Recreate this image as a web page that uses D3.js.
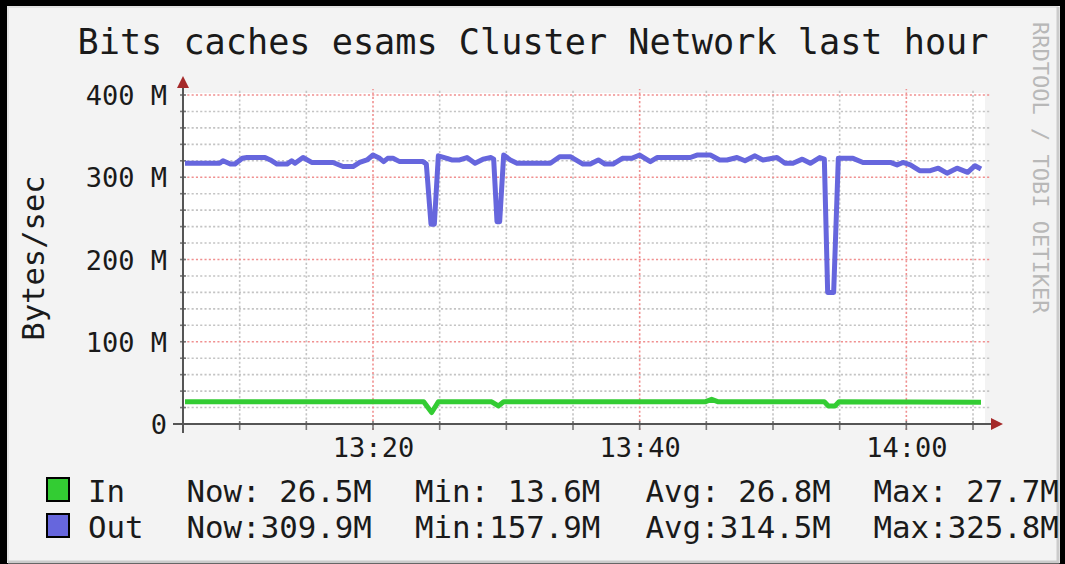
<!DOCTYPE html>
<html>
<head>
<meta charset="utf-8">
<title>Bits caches esams Cluster Network last hour</title>
<script src="https://d3js.org/d3.v7.min.js"></script>
<style>
  body { margin: 0; background: #000; }
  svg { display: block; }
  text { font-family: "DejaVu Sans Mono", monospace; }
</style>
</head>
<body>
<script>
// minutes after 13:00
var outTimes = [5.9, 8.5, 8.75, 9.3, 9.65, 10.2, 10.55, 11.9, 12.3, 12.8, 13.55, 13.9, 14.15, 14.75,
  15.4, 17.0, 17.75, 18.5, 19.0, 19.55, 20.0, 20.5, 20.8, 21.1, 21.5, 22.0, 23.75, 24.0, 24.35, 24.6,
  24.9, 25.55, 25.9, 26.5, 27.05, 27.65, 28.25, 28.85, 29.05, 29.3, 29.5, 29.8, 30.3, 30.8, 33.3,
  34.0, 34.8, 35.75, 36.3, 36.9, 37.4, 38.0, 38.7, 39.4, 40.0, 40.8, 41.3, 43.8, 44.3, 45.3, 46.0,
  46.55, 47.3, 47.9, 48.65, 49.25, 50.3, 50.9, 51.5, 52.2, 52.8, 53.5, 53.85, 54.1, 54.55, 54.9,
  56.0, 56.75, 58.8, 59.3, 59.75, 60.3, 61.0, 61.8, 62.4, 63.05, 63.8, 64.6, 65.15, 65.6];
// Out, MBytes/sec
var outValues = [317, 317, 320, 316, 316, 323, 324, 324, 321, 316, 316, 320, 317, 324,
  318, 318, 313, 313, 318, 321, 327, 323, 319, 323, 323, 319, 319, 316, 243, 243,
  326, 323, 321, 321, 324, 317, 322, 324, 322, 246, 246, 327, 321, 317, 317,
  325, 325, 316, 316, 321, 316, 316, 323, 323, 327, 319, 324, 324, 327, 327, 321,
  321, 324, 320, 326, 321, 324, 317, 317, 322, 317, 324, 322, 160, 160, 323,
  323, 318, 318, 315, 318, 315, 308, 308, 311, 305, 311, 306, 314, 310];

var inTimes = [5.9, 23.8, 24.4, 24.9, 28.9, 29.4, 29.8, 44.9, 45.4, 45.9, 53.85, 54.15, 54.65, 54.95, 65.6];
var inValues = [27, 27, 14, 27, 27, 22, 27, 27, 30, 27, 27, 22, 22, 27, 26.5];

var yTicks = [0, 100, 200, 300, 400];
var yTickLabels = ["0", "100 M", "200 M", "300 M", "400 M"];
var xTicks = [20, 40, 60];
var xTickLabels = ["13:20", "13:40", "14:00"];

var legendRows = [
  {name: "In",  color: "#33cc33", now: " 26.5M", min: " 13.6M", avg: " 26.8M", max: " 27.7M"},
  {name: "Out", color: "#6666dd", now: "309.9M", min: "157.9M", avg: "314.5M", max: "325.8M"}
];

var W = 1065, H = 564;
var svg = d3.select("body").append("svg").attr("width", W).attr("height", H);

svg.append("rect").attr("width", W).attr("height", H).attr("fill", "#000");
// canvas with shaded frame
svg.append("rect").attr("x", 7).attr("y", 6).attr("width", 1053).attr("height", 557).attr("fill", "#f3f3f3");
svg.append("path").attr("d", "M8,562V7H1058").attr("fill", "none").attr("stroke", "#e2e2e2").attr("stroke-width", 2);
svg.append("path").attr("d", "M8,562H1058V7").attr("fill", "none").attr("stroke", "#cbcbcb").attr("stroke-width", 3);

var x = d3.scaleLinear().domain([5.75, 65.9]).range([183, 985]);
var y = d3.scaleLinear().domain([0, 400]).range([424, 95]);

// plot area
svg.append("rect").attr("x", x(5.75)).attr("y", y(400) - 2)
  .attr("width", x(65.9) - x(5.75)).attr("height", y(0) - y(400) + 2).attr("fill", "#fff");

var minorY = d3.range(20, 401, 20).filter(function(v){ return v % 100 != 0; });
var majorY = [100, 200, 300, 400];
var minorX = d3.range(10, 66, 5).filter(function(v){ return v % 20 != 0; });
var majorX = xTicks;

var grid = svg.append("g");
grid.selectAll(".mx").data(minorX).enter().append("line")
  .attr("x1", function(d){ return x(d); }).attr("x2", function(d){ return x(d); })
  .attr("y1", y(0)).attr("y2", y(400) - 6)
  .attr("stroke", "#c4c4c4").attr("stroke-width", 1.6).attr("stroke-dasharray", "2.1,2.2");
grid.selectAll(".my").data(minorY).enter().append("line")
  .attr("x1", x(5.75)).attr("x2", x(65.9) + 5)
  .attr("y1", function(d){ return y(d); }).attr("y2", function(d){ return y(d); })
  .attr("stroke", "#c4c4c4").attr("stroke-width", 1.6).attr("stroke-dasharray", "2.1,2.2");
grid.selectAll(".Mx").data(majorX).enter().append("line")
  .attr("x1", function(d){ return x(d); }).attr("x2", function(d){ return x(d); })
  .attr("y1", y(0) + 6).attr("y2", y(400) - 6)
  .attr("stroke", "#f09090").attr("stroke-width", 1.6).attr("stroke-dasharray", "2.1,2.2");
grid.selectAll(".My").data(majorY).enter().append("line")
  .attr("x1", x(5.75)).attr("x2", x(65.9) + 5)
  .attr("y1", function(d){ return y(d); }).attr("y2", function(d){ return y(d); })
  .attr("stroke", "#f09090").attr("stroke-width", 1.6).attr("stroke-dasharray", "2.1,2.2");

// axes
var yAxis = d3.axisLeft(y).tickValues(yTicks).tickSize(0).tickPadding(16)
  .tickFormat(function(d, i){ return yTickLabels[i]; });
var gy = svg.append("g").attr("transform", "translate(" + x(5.75) + ",0)").call(yAxis);
gy.select(".domain").remove();
gy.selectAll("text").attr("font-size", 27).attr("fill", "#1a1a1a")
  .attr("font-family", "DejaVu Sans Mono").attr("dy", "0.36em");

var xAxis = d3.axisBottom(x).tickValues(xTicks).tickSize(0).tickPadding(14)
  .tickFormat(function(d, i){ return xTickLabels[i]; });
var gx = svg.append("g").attr("transform", "translate(0," + y(0) + ")").call(xAxis);
gx.select(".domain").remove();
gx.selectAll("text").attr("font-size", 27).attr("fill", "#1a1a1a")
  .attr("font-family", "DejaVu Sans Mono");

// small ticks on axes
svg.append("g").selectAll("line").data(minorY.concat(majorY)).enter().append("line")
  .attr("x1", x(5.75) - 3).attr("x2", x(5.75) + 3)
  .attr("y1", function(d){ return y(d); }).attr("y2", function(d){ return y(d); })
  .attr("stroke", "#777").attr("stroke-width", 1.6);
svg.append("g").selectAll("line").data(minorX.concat(majorX)).enter().append("line")
  .attr("y1", y(0) - 3).attr("y2", y(0) + 6)
  .attr("x1", function(d){ return x(d); }).attr("x2", function(d){ return x(d); })
  .attr("stroke", "#777").attr("stroke-width", 1.6);

svg.append("line").attr("x1", x(5.75)).attr("x2", x(5.75)).attr("y1", y(0) + 9).attr("y2", 86)
  .attr("stroke", "#555").attr("stroke-width", 2);
svg.append("line").attr("x1", x(5.75) - 10).attr("x2", 994).attr("y1", y(0)).attr("y2", y(0))
  .attr("stroke", "#555").attr("stroke-width", 2);
svg.append("path").attr("d", "M" + (x(5.75) - 6) + ",88L" + x(5.75) + ",76L" + (x(5.75) + 6) + ",88Z")
  .attr("fill", "#a52a2a");
svg.append("path").attr("d", "M991," + (y(0) - 6) + "L1003," + y(0) + "L991," + (y(0) + 6) + "Z")
  .attr("fill", "#a52a2a");

// series lines
var line = d3.line().x(function(d){ return x(d[0]); }).y(function(d){ return y(d[1]); });
svg.append("path").datum(d3.zip(inTimes, inValues)).attr("d", line)
  .attr("fill", "none").attr("stroke", "#33cc33").attr("stroke-width", 5).attr("stroke-linejoin", "round");
svg.append("path").datum(d3.zip(outTimes, outValues)).attr("d", line)
  .attr("fill", "none").attr("stroke", "#6666dd").attr("stroke-width", 5).attr("stroke-linejoin", "round");

// title & labels
svg.append("text").attr("x", 533).attr("y", 54).attr("text-anchor", "middle")
  .attr("font-size", 35.2).attr("fill", "#1a1a1a").text("Bits caches esams Cluster Network last hour");
svg.append("text").attr("transform", "translate(44,258) rotate(-90)").attr("text-anchor", "middle")
  .attr("font-size", 30.5).attr("fill", "#1a1a1a").text("Bytes/sec");
svg.append("text").attr("transform", "translate(1033,22) rotate(90)")
  .attr("font-size", 22).attr("fill", "#b8b8b8").text("RRDTOOL / TOBI OETIKER");

// legend
var lg = svg.append("g").selectAll("g").data(legendRows).enter().append("g")
  .attr("transform", function(d, i){ return "translate(0," + (502 + i * 36) + ")"; });
lg.append("rect").attr("x", 47).attr("y", -24).attr("width", 22).attr("height", 23)
  .attr("fill", function(d){ return d.color; }).attr("stroke", "#000").attr("stroke-width", 2);
var legendCols = [
  {x: 88, f: function(d){ return d.name; }},
  {x: 186.5, f: function(d){ return "Now:" + d.now; }},
  {x: 415, f: function(d){ return "Min:" + d.min; }},
  {x: 645.5, f: function(d){ return "Avg:" + d.avg; }},
  {x: 873.5, f: function(d){ return "Max:" + d.max; }}
];
legendCols.forEach(function(c){
  lg.append("text").attr("x", c.x).attr("y", 0).attr("font-size", 30.8).attr("fill", "#1a1a1a")
    .attr("xml:space", "preserve").style("white-space", "pre").text(c.f);
});
</script>
</body>
</html>
